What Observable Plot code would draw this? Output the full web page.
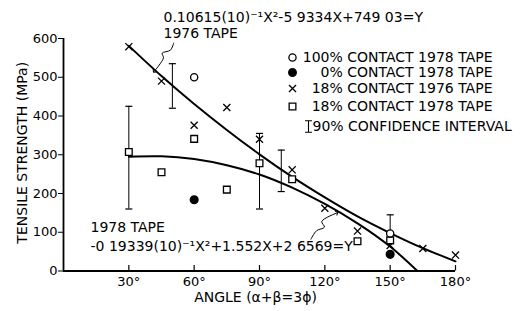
<!DOCTYPE html>
<html><head><meta charset="utf-8">
<script src="https://cdn.jsdelivr.net/npm/d3@7"></script>
<script src="https://cdn.jsdelivr.net/npm/@observablehq/plot@0.6"></script>
<style>
html,body{margin:0;padding:0;background:#fff;}
svg{display:block;}
</style>
</head><body><div id="chart"></div>
<script>
// ---- data ----
const xTicks = [30, 60, 90, 120, 150, 180];
const yTicks = [0, 100, 200, 300, 400, 500, 600];

const tape1976Angle    = [30, 45, 60, 75, 90, 105, 120, 135, 150, 165, 180];
const tape1976Strength = [579, 490, 376, 422, 340, 261, 162, 103, 66, 58, 41];

const tape1978Angle    = [30, 45, 60, 75, 90, 105, 135, 150];
const tape1978Strength = [307, 255, 341, 210, 278, 237, 77, 79];

const full1978Angle    = [60, 150];
const full1978Strength = [500, 97];

const zero1978Angle    = [60, 150];
const zero1978Strength = [184, 43];

const ciAngle = [30, 50, 90, 100, 150];
const ciLow   = [160, 420, 160, 205, 82];
const ciHigh  = [425, 535, 355, 312, 145];

const fit1976Angle    = [30, 45, 60, 75, 90, 105, 120, 135, 150, 165, 180];
const fit1976Strength = [581, 503, 431, 364, 301, 243, 190, 141, 98, 59, 25];

const fit1978Angle    = [30, 45, 60, 75, 90, 105, 120, 135, 150, 162.5];
const fit1978Strength = [295, 296, 289, 273, 249, 215, 173, 123, 63, 0];

const leader1976Angle    = [50.6, 49.1, 45.3, 45.9, 41.6];
const leader1976Strength = [588, 570, 562, 550, 515];
const leader1978Angle    = [113.6, 116.2, 119.8, 118.6, 125.6];
const leader1978Strength = [82, 104, 113, 128, 150];

const eq1976 = "0.10615(10)\u207B\u00B9X\u00B2-5 9334X+749 03=Y";
const label1976 = "1976 TAPE";
const label1978 = "1978 TAPE";
const eq1978 = "-0 19339(10)\u207B\u00B9X\u00B2+1.552X+2 6569=Y";
const legendLabels = ["100% CONTACT 1978 TAPE", "0% CONTACT 1978 TAPE", "18% CONTACT 1976 TAPE", "18% CONTACT 1978 TAPE"];
const ciLabel = "90% CONFIDENCE INTERVAL";
const xLabel = "ANGLE (\u03B1+\u03B2=3\u03D5)";
const yLabel = "TENSILE STRENGTH (MPa)";

// ---- build tables ----
const zip = (xs, ys) => xs.map((x, i) => ({x, y: ys[i]}));
const pts1976 = zip(tape1976Angle, tape1976Strength);
const pts1978 = zip(tape1978Angle, tape1978Strength);
const ptsFull = zip(full1978Angle, full1978Strength);
const ptsZero = zip(zero1978Angle, zero1978Strength);
const ci = ciAngle.map((x, i) => ({x, lo: ciLow[i], hi: ciHigh[i]}));
const fit76 = zip(fit1976Angle, fit1976Strength);
const fit78 = zip(fit1978Angle, fit1978Strength);
const lead76 = zip(leader1976Angle, leader1976Strength);
const lead78 = zip(leader1978Angle, leader1978Strength);

const capSymbol = {draw(ctx, size) { const w = Math.sqrt(size) / 2; ctx.moveTo(-w, 0); ctx.lineTo(w, 0); }};
const ibarSymbol = {draw(ctx, size) { const w = Math.sqrt(size) / 2; ctx.moveTo(-w * 0.6, -w); ctx.lineTo(w * 0.6, -w); ctx.moveTo(0, -w); ctx.lineTo(0, w); ctx.moveTo(-w * 0.6, w); ctx.lineTo(w * 0.6, w); }};

const F = "DejaVu Sans";
const FS = 14;
const legendRows = [
  {dy: 19, symbol: "circle", fill: "none", r: 3.6},
  {dy: 34, symbol: "circle", fill: "black", r: 3.8},
  {dy: 50, symbol: "times", fill: "none", r: 3.3},
  {dy: 68, symbol: "square", fill: "none", r: 3.8}
];

const legendMarks = legendRows.flatMap((row, i) => [
  Plot.dot([0], {frameAnchor: "top-left", dx: 229, dy: row.dy, symbol: row.symbol,
    r: row.r, fill: row.fill, stroke: "black", strokeWidth: 1.3}),
  Plot.text([legendLabels[i]], {frameAnchor: "top-left", dx: 429, dy: row.dy, text: d => d,
    textAnchor: "end", lineAnchor: "middle", fontSize: FS})
]);

const chart = Plot.plot({
  width: 524,
  height: 311,
  marginLeft: 63,
  marginRight: 69,
  marginTop: 38,
  marginBottom: 40.5,
  style: {fontFamily: F, fontSize: "13px", background: "white", color: "black"},
  x: {domain: [0, 180], ticks: xTicks, tickFormat: d => d + "\u00B0", tickSize: 0, tickPadding: 6, label: null},
  y: {domain: [0, 600], ticks: yTicks, tickSize: 5, tickPadding: 1, label: null},
  marks: [
    Plot.ruleY([0], {stroke: "black", strokeWidth: 1.8}),
    Plot.ruleX([0], {y1: 0, y2: 600, stroke: "black", strokeWidth: 1.8}),
    Plot.ruleX(xTicks, {x: d => d, y1: 0, y2: 14, stroke: "black", strokeWidth: 1.2}),
    // fitted curves
    Plot.line(fit76, {x: "x", y: "y", curve: "natural", stroke: "black", strokeWidth: 2}),
    Plot.line(fit78, {x: "x", y: "y", curve: "natural", stroke: "black", strokeWidth: 2}),
    // confidence intervals
    Plot.ruleX(ci, {x: "x", y1: "lo", y2: "hi", stroke: "black", strokeWidth: 1}),
    Plot.dot(ci, {x: "x", y: "lo", symbol: capSymbol, r: 4, stroke: "black", fill: "none", strokeWidth: 1.2}),
    Plot.dot(ci, {x: "x", y: "hi", symbol: capSymbol, r: 4, stroke: "black", fill: "none", strokeWidth: 1.2}),
    // data points
    Plot.dot(pts1976, {x: "x", y: "y", symbol: "times", r: 3.3, stroke: "black", strokeWidth: 1.3}),
    Plot.dot(pts1978, {x: "x", y: "y", symbol: "square", r: 3.8, stroke: "black", fill: "white", strokeWidth: 1.3}),
    Plot.dot(ptsFull, {x: "x", y: "y", symbol: "circle", r: 3.6, stroke: "black", fill: "white", strokeWidth: 1.3}),
    Plot.dot(ptsZero, {x: "x", y: "y", symbol: "circle", r: 3.8, stroke: "black", fill: "black"}),
    // leaders
    Plot.line(lead76, {x: "x", y: "y", curve: "catmull-rom", stroke: "black", strokeWidth: 1, markerEnd: "arrow"}),
    Plot.line(lead78, {x: "x", y: "y", curve: "catmull-rom", stroke: "black", strokeWidth: 1, markerEnd: "arrow"}),
    // annotations
    Plot.text([eq1976], {frameAnchor: "top-left", dx: 100, dy: -21, text: d => d, textAnchor: "start", lineAnchor: "middle", fontSize: FS}),
    Plot.text([label1976], {frameAnchor: "top-left", dx: 100, dy: -5, text: d => d, textAnchor: "start", lineAnchor: "middle", fontSize: FS}),
    Plot.text([label1978], {frameAnchor: "top-left", dx: 27, dy: 189, text: d => d, textAnchor: "start", lineAnchor: "middle", fontSize: FS}),
    Plot.text([eq1978], {frameAnchor: "top-left", dx: 27, dy: 208.5, text: d => d, textAnchor: "start", lineAnchor: "middle", fontSize: FS}),
    ...legendMarks,
    Plot.dot([0], {frameAnchor: "top-left", dx: 245, dy: 88, symbol: ibarSymbol, r: 6.5, stroke: "black", fill: "none", strokeWidth: 1.1}),
    Plot.text([ciLabel], {frameAnchor: "top-left", dx: 249, dy: 88, text: d => d, textAnchor: "start", lineAnchor: "middle", fontSize: FS}),
    Plot.text([xLabel], {frameAnchor: "bottom", dx: -4, dy: 27, text: d => d, textAnchor: "middle", lineAnchor: "middle", fontSize: FS}),
    Plot.text([yLabel], {frameAnchor: "left", dx: -41, dy: -2, rotate: -90, text: d => d, textAnchor: "middle", lineAnchor: "middle", fontSize: FS})
  ]
});
document.getElementById("chart").appendChild(chart);
</script>
</body></html>
